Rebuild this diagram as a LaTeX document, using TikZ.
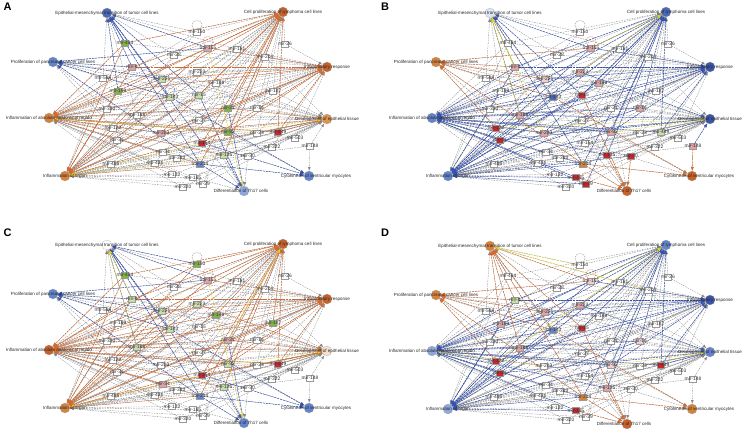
\documentclass[tikz,border=0pt]{standalone}
\usepackage{fontspec}
\setmainfont{Liberation Sans}
\usetikzlibrary{backgrounds}

% function colours
\definecolor{fbl}{HTML}{4A68B8}
\definecolor{fbd}{HTML}{3B55A6}
\definecolor{fbm}{HTML}{6384CC}
\definecolor{fbk}{HTML}{8DA7DC}
\definecolor{fbw}{HTML}{DCE5F4}
\definecolor{fog}{HTML}{C7612A}
\definecolor{fom}{HTML}{D5823C}
\definecolor{fol}{HTML}{DD9450}
\definecolor{fow}{HTML}{F6DECB}
% mirna colours
\definecolor{mgr}{HTML}{7DB540}
\definecolor{mgl}{HTML}{C6DFA4}
\definecolor{mrd}{HTML}{C8262C}
\definecolor{mpk}{HTML}{E3A2A6}
\definecolor{mpl}{HTML}{F1CDCF}
% edge colours
\definecolor{eor}{HTML}{D8692A}
\definecolor{ebl}{HTML}{3352B4}
\definecolor{eye}{HTML}{E2D12C}
\definecolor{egr}{HTML}{858585}

\tikzset{
  fn/.style={circle, minimum size=10pt, inner sep=0pt, draw=black!35, line width=0.2pt},
  mirna/.style={rectangle, minimum width=7pt, minimum height=6pt, inner sep=0pt,
    draw=black!40, line width=0.2pt},
  flbl/.style={font=\fontsize{4.5}{5}\selectfont, text=black!85, inner sep=0pt},
  mlbl/.style={font=\fontsize{4.9}{5.5}\selectfont, text=black!80, inner sep=0pt},
  tag/.style={font=\bfseries\fontsize{11}{12}\selectfont, inner sep=0pt},
  link/.style={-latex, draw=egr, line width=0.33pt, dash pattern=on 1.6pt off 1pt},
  clink/.style={link, line width=0.45pt, dash pattern=on 2pt off 1pt},
  loopl/.style={line width=0.35pt, dash pattern=on 1.6pt off 0.8pt}
}

% layout of one panel (y downwards)
\def\fnlist{emt/107/13/0/Epithelial-mesenchymal transition of tumor cell lines,
  lym/283/12/0/Cell proliferation of lymphoma cell lines,
  pan/53/62/0/Proliferation of pancreatic cancer cell lines,
  inr/327/67/0/Inflammatory response,
  abs/49/118/0/Inflammation of absolute anatomical region,
  dev/327/119/0/Development of epithelial tissue,
  org/65/176/0/Inflammation of organ,
  cyt/309/176/7/Cytokinesis of ventricular myocytes,
  th/244/191/-3/Differentiation of Th17 cells}

\def\mirlist{m150/197/32/150, m155/208/48/155, m181/237/49/181, m26/285/44/26,
  m204/265/57/204, m484/125/43/484, m9/132/67/9, m28/174/55/28, m223/197/72/223,
  m221/162/79/221, m598/103/78/598, m199/118/91/199, m143/170/97/143,
  m146/216/83/146, m15/199/95/15, m187/273/91/187, m21/228/108/21,
  m16/257/108/16, m330/107/109/330, m188/137/115/188, m27/199/120.5/27,
  m122/113/128/122, m31/117/140/31, m203/161/133/203, m92/228/132/92,
  m23/257/133/23, m449/278/132/449, m154/202/143/154, m503/295/138/503,
  m322/272/147/322, m148/310/146/148, m34/163/152/34, m383/177/158/383,
  m135/224/155/135, m30/248/156/30, m455/111/164/455, m431/155/163/431,
  m214/200/164/214, m132/172/174.5/132, m185/193/177.5/185, m29/203/184/29,
  m320/183/187/320}

% links that can be predicted
\def\linklist{m150/emt, m150/lym, m150/org, m150/abs,
  m155/emt, m155/lym, m155/org, m155/abs, m155/inr, m155/pan,
  m181/lym, m181/abs, m181/org,
  m26/lym,
  m204/lym, m204/abs, m204/org, m204/inr,
  m484/emt, m484/lym, m484/org, m484/abs,
  m9/emt, m9/lym, m9/inr, m9/org, m9/abs, m9/pan,
  m28/emt, m28/org, m28/inr,
  m223/abs, m223/lym, m223/org, m223/dev,
  m221/lym, m221/inr, m221/abs, m221/org, m221/pan,
  m598/pan, m598/abs, m598/org, m598/inr,
  m199/emt, m199/lym, m199/inr, m199/abs, m199/org,
  m143/emt, m143/pan, m143/cyt, m143/org, m143/abs,
  m146/lym, m146/abs, m146/org, m146/inr,
  m15/emt, m15/th, m15/lym, m15/org,
  m187/lym, m187/abs, m187/org,
  m21/lym, m21/inr, m21/dev, m21/org, m21/abs, m21/th,
  m16/lym, m16/abs, m16/org,
  m330/pan, m330/abs, m330/inr,
  m188/emt, m188/abs, m188/dev, m188/inr,
  m27/abs, m27/org, m27/dev,
  m122/abs, m122/org, m122/pan, m122/inr,
  m31/abs, m31/org, m31/dev, m31/lym,
  m203/lym, m203/inr, m203/org, m203/dev, m203/abs,
  m92/lym, m92/inr, m92/org, m92/abs,
  m23/abs, m23/org, m23/dev,
  m449/lym, m449/inr, m449/dev, m449/abs,
  m154/lym, m154/inr, m154/dev, m154/emt, m154/cyt,
  m503/dev, m503/org,
  m322/dev, m322/org,
  m148/dev, m148/cyt,
  m34/abs, m34/org, m34/dev,
  m383/org, m383/dev, m383/abs,
  m135/th, m135/lym, m135/abs,
  m30/th, m30/org,
  m455/org, m455/abs, m455/inr,
  m431/org, m431/abs, m431/dev,
  m214/emt, m214/pan, m214/cyt, m214/th, m214/org, m214/abs, m214/lym,
  m132/org, m132/abs,
  m185/org, m185/abs, m185/th,
  m29/org, m29/abs, m29/lym,
  m320/org, m320/abs}

% links that stay grey in every panel
\def\greylist{m449/org, m23/inr, m187/inr, m204/dev, m181/inr, m322/abs,
  m503/abs, m30/abs, m148/org, m16/dev, m27/inr, m15/abs, m146/dev, m28/abs,
  m28/lym, m598/emt, m330/org, m330/dev, m122/lym, m31/inr, m455/dev,
  m455/lym, m431/lym, m132/dev, m320/dev, m185/dev, m29/dev, m34/inr,
  m383/lym, m214/dev, m135/dev, m30/dev, m23/lym, m503/inr, m322/inr,
  m92/cyt, m154/th, m27/th, m27/lym, m188/org, m199/dev, m9/dev, m484/inr,
  m221/dev, m223/inr, m146/pan, m15/pan, m187/dev, m26/inr, m204/emt}

% state of a panel: colour and kind (o = up, b = down, n = none)
\newcommand{\setfn}[1]{%
  \foreach \nm/\fcol/\fkind in {#1}{%
    \xglobal\colorlet{f\nm}{\fcol}%
    \expandafter\xdef\csname k\nm\endcsname{\fkind}}}
\newcommand{\setmir}[1]{%
  \foreach \nm/\xx/\yy/\txt in \mirlist{%
    \xglobal\colorlet{f\nm}{white}%
    \expandafter\xdef\csname k\nm\endcsname{n}}%
  \foreach \nm/\fcol in {#1}{%
    \xglobal\colorlet{f\nm}{\fcol}%
    \expandafter\xdef\csname k\nm\endcsname{c}}}
\newcommand{\setloop}[1]{%
  \foreach \nm/\fcol in {#1}{\xglobal\colorlet{l\nm}{\fcol}}}

% one panel: #1 name, #2/#3 shift, #4 yellow links
\newcommand{\drawpanel}[4]{%
  \begin{scope}[shift={(#2,#3)}]
    \foreach \nm/\xx/\yy/\dx/\txt in \fnlist {
      \node[fn, fill=f\nm] (#1-\nm) at (\xx,\yy) {};
      \node[flbl] (#1-\nm-t) at (\xx+\dx,\yy) {\txt};
    }
    \foreach \nm/\xx/\yy/\txt in \mirlist {
      \node[mirna, fill=f\nm] (#1-\nm) at (\xx,\yy) {};
      \node[mlbl] (#1-\nm-t) at (#1-\nm) {mir-\txt};
    }
    \begin{scope}[on background layer]
      % grey links
      \foreach \src/\dst in \greylist {
        \draw[link] (#1-\src) -- (#1-\dst);
      }
      \foreach \src/\dst in \linklist {
        \draw[link] (#1-\src) -- (#1-\dst);
      }
      % predicted links
      \foreach \src/\dst in \linklist {
        \edef\ks{\csname k\src\endcsname}%
        \edef\kt{\csname k\dst\endcsname}%
        \if c\ks
          \if o\kt \draw[clink, draw=eor] (#1-\src) -- (#1-\dst);\fi
          \if b\kt \draw[clink, draw=ebl] (#1-\src) -- (#1-\dst);\fi
        \fi
      }
      % inconsistent links
      \foreach \src/\dst in {#4} {
        \draw[clink, draw=eye] (#1-\src) -- (#1-\dst);
      }
      % self loops
      \foreach \nm in {m150,m155,m143,m21,m29} {
        \draw[loopl, draw=l\nm] (#1-\nm.north west)
          .. controls +(-7,-11) and +(7,-11) .. (#1-\nm.north east);
      }
    \end{scope}
  \end{scope}}

\begin{document}
\begin{tikzpicture}[x=1pt, y=-1pt]
  \useasboundingbox (0,0) rectangle (747,431);

  % panel A
  \setfn{emt/fbl/b, lym/fog/o, pan/fbm/b, inr/fog/o, abs/fom/o, dev/fol/o,
    org/fom/o, cyt/fbm/b, th/fbk/b}
  \setmir{m484/mgr, m9/mpk, m221/mgl, m199/mgr, m143/mgl, m15/mgl, m155/mpk,
    m21/mgr, m203/mpk, m92/mgr, m154/mrd, m449/mrd, m135/mgl, m214/fbm}
  \setloop{m150/egr, m155/eor, m143/ebl, m21/ebl, m29/egr}
  \drawpanel{A}{0}{0}{m155/th, m92/dev, m154/org, m92/abs, m135/org}

  % panel B
  \setfn{emt/fbw/b, lym/fbl/b, pan/fom/o, inr/fbd/b, abs/fbm/b, dev/fbd/b,
    org/fbm/b, cyt/fog/o, th/fog/o}
  \setmir{m155/mpk, m9/mpk, m223/mpk, m221/mpl, m143/fbl, m146/mpk, m15/mrd,
    m16/mpk, m188/mpk, m122/mrd, m31/mrd, m203/mpk, m92/mpk, m449/mgl,
    m148/mpk, m135/mrd, m30/mrd, m214/fom, m185/mrd, m29/mrd}
  \setloop{m150/egr, m155/eor, m143/ebl, m21/egr, m29/eor}
  \drawpanel{B}{383}{0}{m9/emt, m188/emt, m203/emt, m155/lym, m92/dev,
    m223/lym, m122/dev}

  % panel C
  \setfn{emt/white/b, lym/fog/o, pan/fbm/b, inr/fog/o, abs/fog/o, dev/fow/o,
    org/fom/o, cyt/fbm/b, th/fbm/b}
  \setmir{m150/mgr, m155/mpk, m484/mgr, m9/mgl, m223/mgl, m221/mgl, m143/mgl,
    m146/mgr, m187/mgr, m21/mpk, m188/mgl, m92/mgl, m449/mrd, m154/mrd,
    m135/mgl, m214/fbm, m34/mpk}
  \setloop{m150/egr, m155/eor, m143/ebl, m21/egr, m29/egr}
  \drawpanel{C}{0}{232}{m9/emt, m188/emt, m155/th, m92/dev, m21/lym, m154/org}

  % panel D
  \setfn{emt/fom/o, lym/fbm/b, pan/fom/o, inr/fbd/b, abs/fbk/b, dev/fbm/b,
    org/fbk/b, cyt/fom/o, th/fog/o}
  \setmir{m155/mpl, m9/mgl, m223/mpk, m221/mpk, m199/mpk, m143/fbm, m15/mrd,
    m16/mpl, m188/mpk, m122/mrd, m31/mrd, m92/mpl, m449/mrd, m135/mpk,
    m214/fom, m185/mrd}
  \setloop{m150/egr, m155/eor, m143/ebl, m21/egr, m29/egr}
  \drawpanel{D}{383}{233}{m150/emt, m155/lym, m204/emt, m92/dev, m203/abs,
    m122/lym}

  % panel letters
  \node[tag] (tagA) at (7.5,7) {A};
  \node[tag] (tagB) at (385,7) {B};
  \node[tag] (tagC) at (7.5,233) {C};
  \node[tag] (tagD) at (385,233) {D};

\end{tikzpicture}
\end{document}
